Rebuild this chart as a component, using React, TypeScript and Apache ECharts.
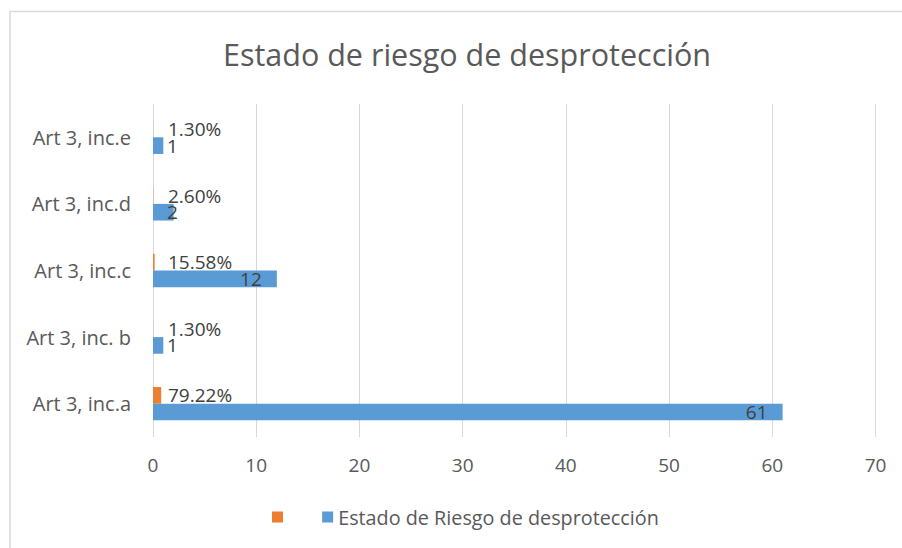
import React, { useEffect, useRef } from "react";
import * as echarts from "echarts";

const categories = ["Art 3, inc.a", "Art 3, inc. b", "Art 3, inc.c", "Art 3, inc.d", "Art 3, inc.e"];
const shareValues = [0.7922, 0.013, 0.1558, 0.026, 0.013];
const countValues = [61, 1, 12, 2, 1];
const countSeriesName = "Estado de Riesgo de desprotección";
const shareSeriesName = " ";
const titleText = "Estado de riesgo de desprotección";

const FONT = "'Open Sans', sans-serif";

export default function App() {
  const ref = useRef<HTMLDivElement>(null);
  useEffect(() => {
    if (!ref.current) return;
    const chart = echarts.init(ref.current, null, { renderer: "svg" });
    const labelBase = {
      show: true,
      fontFamily: FONT,
      fontSize: 19,
      color: "#404040",
    };
    chart.setOption({
      animation: false,
      backgroundColor: "#ffffff",
      title: {
        text: titleText,
        left: 462,
        top: 33,
        textAlign: "center",
        textStyle: { fontFamily: FONT, fontSize: 30.5, fontWeight: "normal", color: "#595959" },
      },
      legend: {
        left: 267,
        top: 502,
        itemWidth: 11,
        itemHeight: 11,
        itemGap: 29,
        icon: "rect",
        textStyle: { fontFamily: FONT, fontSize: 19.8, color: "#595959" },
        data: [shareSeriesName, countSeriesName],
      },
      grid: { left: 153, right: 26.5, top: 104, bottom: 111, containLabel: false },
      xAxis: {
        type: "value",
        min: 0,
        max: 70,
        interval: 10,
        axisLine: { show: false },
        axisTick: { show: false },
        splitLine: { show: true, lineStyle: { color: "#d9d9d9", width: 1 } },
        axisLabel: { fontFamily: FONT, fontSize: 19, color: "#595959", margin: 18 },
      },
      yAxis: {
        type: "category",
        data: categories,
        axisLine: { show: false },
        axisTick: { show: false },
        axisLabel: { fontFamily: FONT, fontSize: 20, color: "#595959", margin: 22 },
      },
      series: [
        {
          name: shareSeriesName,
          type: "bar",
          data: shareValues,
          barGap: "0%",
          barCategoryGap: "50%",
          itemStyle: { color: "#ED7D31" },
          label: {
            ...labelBase,
            position: "insideLeft",
            distance: 15,
            formatter: (p: any) => (p.value * 100).toFixed(2) + "%",
          },
        },
        {
          name: countSeriesName,
          type: "bar",
          barGap: "0%",
          barCategoryGap: "50%",
          itemStyle: { color: "#5B9BD5" },
          data: countValues.map((v) => ({
            value: v,
            label: v >= 5 ? { position: "insideRight", distance: 15 } : { position: "insideLeft", distance: 14 },
          })),
          label: { ...labelBase },
        },
      ],
      graphic: [
        {
          type: "rect",
          shape: { x: 10, y: 11.5, width: 1000, height: 1000 },
          style: { fill: "none", stroke: "#d9d9d9", lineWidth: 1.5 },
          silent: true,
        },
      ],
    });
    return () => chart.dispose();
  }, []);
  return (
    <div
      ref={ref}
      style={{ position: "absolute", left: 0, top: 0, width: 902, height: 548 }}
    />
  );
}
